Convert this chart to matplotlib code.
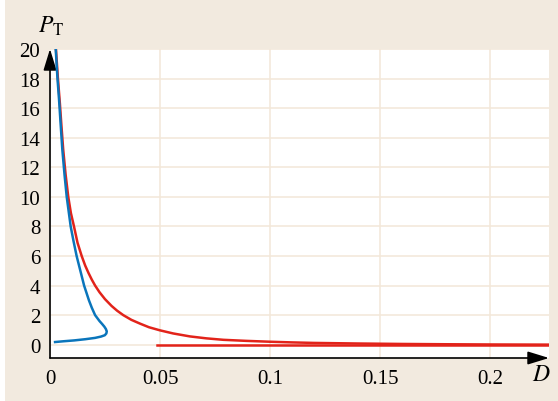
import matplotlib.pyplot as plt
from matplotlib.patches import Rectangle

plt.rcParams['font.family'] = ['Liberation Serif', 'STIXGeneral']
plt.rcParams['mathtext.fontset'] = 'stix'

# red branch: decreasing curve plus the flat branch at zero
d_red = [0.0027, 0.0036, 0.0045, 0.0052, 0.0060, 0.0071, 0.0083, 0.0095, 0.0109,
         0.0125, 0.0144, 0.016, 0.0175, 0.019, 0.0205, 0.0225, 0.025, 0.028,
         0.0305, 0.0333, 0.037, 0.041, 0.045, 0.05, 0.056, 0.0636, 0.071, 0.0788,
         0.089, 0.1, 0.11, 0.12, 0.14, 0.16, 0.18, 0.2, 0.2268]
p_red = [20, 18, 16.3, 14.8, 13.2, 11.5, 10, 8.9, 8,
         6.9, 6, 5.35, 4.85, 4.4, 4, 3.55, 3.08, 2.62,
         2.3, 2.0, 1.68, 1.42, 1.18, 0.97, 0.76, 0.56, 0.43, 0.33,
         0.26, 0.2, 0.155, 0.12, 0.08, 0.05, 0.03, 0.015, 0.005]
d_flat = [0.0485, 0.2268]
p_flat = [0, 0]

# blue branch: turns back near D = 0.026
d_blue = [0.0026, 0.0034, 0.0041, 0.0048, 0.0056, 0.0066, 0.0076, 0.0085, 0.0094,
          0.0107, 0.0121, 0.0138, 0.0155, 0.0166, 0.0177, 0.019, 0.0205, 0.0225,
          0.0237, 0.0247, 0.0254, 0.0258, 0.0256, 0.0249, 0.0232, 0.0205, 0.016,
          0.011, 0.006, 0.0023]
p_blue = [20, 18, 16.6, 15, 13.2, 11.5, 10, 9, 8,
          7, 6, 5, 4, 3.5, 3.0, 2.5, 2.0, 1.6,
          1.4, 1.22, 1.06, 0.9, 0.76, 0.64, 0.55, 0.46, 0.37,
          0.29, 0.23, 0.18]

xticks = [0, 0.05, 0.1, 0.15, 0.2]
xlabels = ['0', '0.05', '0.1', '0.15', '0.2']
yticks = list(range(0, 21, 2))

W, H = 558, 402
fig = plt.figure(figsize=(W / 100, H / 100), dpi=100, facecolor='white')
fig.patches.append(Rectangle((5 / W, 0), 1, 1, transform=fig.transFigure,
                             facecolor='#f2eadf', edgecolor='none', zorder=-10))

ax = fig.add_axes([50 / W, (H - 359) / H, 499 / W, 309 / H])
ax.set_facecolor('white')

red = '#e2231a'
blue = '#0a75bb'
ax.plot(d_red, p_red, color=red, lw=1.8, zorder=3, solid_joinstyle='round')
ax.plot(d_flat, p_flat, color=red, lw=1.8, zorder=3)
ax.plot(d_blue, p_blue, color=blue, lw=1.8, zorder=4, solid_joinstyle='round')

ax.set_xlim(0, 0.2268)
ax.set_ylim(-0.9, 20.0)
ax.set_xticks(xticks)
ax.set_xticklabels(xlabels)
ax.set_yticks(yticks)
ax.grid(True, color='#f3e7d8', lw=1.1)
ax.set_axisbelow(True)
ax.tick_params(length=0, labelsize=15)
ax.tick_params(axis='x', pad=8)
ax.tick_params(axis='y', pad=7)
for s in ax.spines.values():
    s.set_visible(False)

# axes drawn as arrows
arrow = dict(arrowstyle='-|>,head_length=0.65,head_width=0.2', color='k', lw=1.2,
             shrinkA=0, shrinkB=0, mutation_scale=20)
ax.annotate('', xy=(1, 0), xytext=(0, 0), xycoords='axes fraction', arrowprops=arrow)
ax.annotate('', xy=(0, 1), xytext=(0, 0), xycoords='axes fraction', arrowprops=arrow)

fig.text(51 / W, 1 - 26 / H, r'$P_\mathrm{T}$', fontsize=17, ha='center', va='center')
fig.text(541 / W, 1 - 376 / H, r'$D$', fontsize=17, ha='center', va='center')

plt.savefig('out.png', dpi=100, facecolor=fig.get_facecolor())
